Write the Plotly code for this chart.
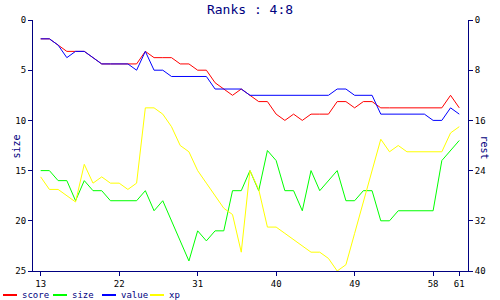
import plotly.graph_objects as go

x_vals = list(range(13, 62))

score = [3, 3, 4, 5, 5, 5, 6, 7, 7, 7, 7, 7, 5, 6, 6, 6, 7, 7, 8, 8,
         10, 11, 12, 11, 12, 13, 13, 15, 16, 15, 16, 15, 15, 15, 13, 13, 14, 13, 13, 14,
         14, 14, 14, 14, 14, 14, 14, 12, 14]

value = [3, 3, 4, 6, 5, 5, 6, 7, 7, 7, 7, 8, 5, 8, 8, 9, 9, 9, 9, 9,
         11, 11, 11, 11, 12, 12, 12, 12, 12, 12, 12, 12, 12, 12, 11, 11, 12, 12, 12, 15,
         15, 15, 15, 15, 15, 16, 16, 14, 15]

size = [15, 15, 16, 16, 18, 16, 17, 17, 18, 18, 18, 18, 17, 19, 18, 20, 22, 24, 21, 22,
        21, 21, 17, 17, 15, 17, 13, 14, 17, 17, 19, 15, 17, 16, 15, 18, 18, 17, 17, 20,
        20, 19, 19, 19, 19, 19, 14, 13, 12]

xp = [25, 27, 27, 28, 29, 23, 26, 25, 26, 26, 27, 26, 14, 14, 15, 17, 20, 21, 24, 26,
      28, 30, 31, 37, 24, 27, 33, 33, 34, 35, 36, 37, 37, 38, 40, 39, 34, 29, 24, 19,
      21, 20, 21, 21, 21, 21, 21, 18, 17]

x_ticks = [13, 22, 31, 40, 49, 58, 61]
left_ticks = [0, 5, 10, 15, 20, 25]
right_ticks = [0, 8, 16, 24, 32, 40]

series_names = ["score", "size", "value", "xp"]
series_colors = ["#ff0000", "#00ff00", "#0000ff", "#ffff00"]

NAVY = "#000080"
FONT = "DejaVu Sans Mono"

fig = go.Figure()
fig.add_trace(go.Scatter(x=x_vals, y=score, mode="lines", name="score",
                         line=dict(color=series_colors[0], width=1), yaxis="y2"))
fig.add_trace(go.Scatter(x=x_vals, y=size, mode="lines", name="size",
                         line=dict(color=series_colors[1], width=1), yaxis="y"))
fig.add_trace(go.Scatter(x=x_vals, y=value, mode="lines", name="value",
                         line=dict(color=series_colors[2], width=1), yaxis="y2"))
fig.add_trace(go.Scatter(x=x_vals, y=xp, mode="lines", name="xp",
                         line=dict(color=series_colors[3], width=1), yaxis="y2"))

L, R, T, B = 33, 32, 20, 29
W, H = 500, 300
pw = W - L - R
ph = H - T - B

axis_common = dict(showgrid=False, zeroline=False, showline=True, linecolor=NAVY,
                   linewidth=1, ticks="outside", ticklen=4, tickcolor=NAVY,
                   tickfont=dict(family=FONT, size=9, color="black"))

fig.update_layout(
    width=W, height=H,
    margin=dict(l=L, r=R, t=T, b=B, pad=0),
    paper_bgcolor="white", plot_bgcolor="white",
    showlegend=False,
    title=dict(text="Ranks : 4:8", x=0.5, xanchor="center", y=1 - 9 / H, yanchor="middle",
               font=dict(family=FONT, size=13, color=NAVY)),
    xaxis=dict(range=[12.12, 62.0], tickvals=x_ticks, **axis_common),
    yaxis=dict(range=[25, 0], tickvals=left_ticks, **axis_common),
    yaxis2=dict(range=[40, 0], tickvals=right_ticks, overlaying="y", side="right",
                anchor="x", **axis_common),
)

# axis titles
fig.add_annotation(text="size", xref="paper", yref="paper", x=-25 / pw, y=(271 - 147) / ph,
                   showarrow=False, textangle=-90,
                   font=dict(family=FONT, size=10, color=NAVY))
fig.add_annotation(text="rest", xref="paper", yref="paper", x=1 + 24 / pw, y=(271 - 147) / ph,
                   showarrow=False, textangle=90,
                   font=dict(family=FONT, size=10, color=NAVY))

# custom legend at bottom
leg_starts = [3, 53, 102, 150]
leg_y = -(295 - 271) / ph
for name, color, sx in zip(series_names, series_colors, leg_starts):
    fig.add_shape(type="line", xref="paper", yref="paper",
                  x0=(sx - L) / pw, x1=(sx + 14 - L) / pw, y0=leg_y, y1=leg_y,
                  line=dict(color=color, width=2))
    fig.add_annotation(text=name, xref="paper", yref="paper", x=(sx + 17 - L) / pw, y=leg_y,
                       xanchor="left", yanchor="middle", showarrow=False,
                       font=dict(family=FONT, size=9, color=NAVY))

fig.write_html("out.html")
